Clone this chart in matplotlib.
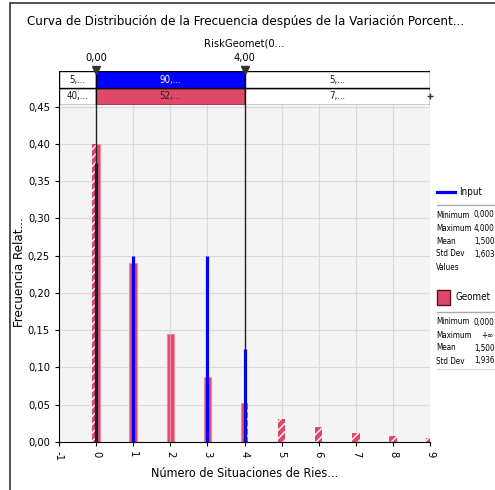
import matplotlib
matplotlib.use('Agg')
import matplotlib.pyplot as plt
from matplotlib.patches import Rectangle
from matplotlib.lines import Line2D

plt.rcParams['font.family'] = ['DejaVu Sans']
plt.rcParams['font.stretch'] = 'condensed'
plt.rcParams['hatch.linewidth'] = 1.0

title = 'Curva de Distribución de la Frecuencia despúes de la Variación Porcent...'
subtitle = 'RiskGeomet(0...'
xlabel = 'Número de Situaciones de Ries...'
ylabel = 'Frecuencia Relat...'

geomet_x = [0, 1, 2, 3, 4, 5, 6, 7, 8, 9]
geomet_p = [0.40, 0.24, 0.145, 0.087, 0.052, 0.031, 0.020, 0.012, 0.008, 0.005]
input_x = [0, 1, 3, 4]
input_p = [0.375, 0.25, 0.25, 0.125]

delims = [0.0, 4.0]
delim_labels = ['0,00', '4,00']
band_input = ['5,...', '90,...', '5,...']
band_geomet = ['40,...', '52,...', '7,...']

input_stats = [('Minimum', '0,000'), ('Maximum', '4,000'), ('Mean', '1,500'),
               ('Std Dev', '1,603'), ('Values', '')]
geomet_stats = [('Minimum', '0,000'), ('Maximum', '+∞'), ('Mean', '1,500'),
                ('Std Dev', '1,936')]

xticks = [-1, 0, 1, 2, 3, 4, 5, 6, 7, 8, 9]
yticks = [0.0, 0.05, 0.10, 0.15, 0.20, 0.25, 0.30, 0.35, 0.40, 0.45]

RED = '#E0486A'
BLUE = '#0000FF'
W, H = 495, 490


def fx(px):
    return px / W


def fy(py):
    return 1 - py / H


fig = plt.figure(figsize=(W / 100, H / 100), dpi=100)
fig.patch.set_facecolor('white')

# outer frame
fig.patches.append(Rectangle((fx(10), -0.1), 1.2, fy(3) + 0.1, fill=False,
                             edgecolor='#333333', lw=1.2, transform=fig.transFigure))

left, right, bottom, top = fx(59), fx(430), fy(442), fy(103)
ax = fig.add_axes([left, bottom, right - left, top - bottom])
ax.set_facecolor('#F4F4F4')
ax.set_xlim(-1, 9)
ax.set_ylim(0, 0.455)
ax.grid(True, color='#DADADA', lw=0.8)
ax.set_axisbelow(True)
for s in ['top', 'right']:
    ax.spines[s].set_visible(False)

# Geomet bars: hatched outside the delimiters
w = 0.1
for k, p in zip(geomet_x, geomet_p):
    for x0 in (k - w, k):
        outside = x0 < delims[0] or x0 >= delims[1]
        if outside:
            ax.bar(x0, p, width=w, align='edge', color=RED, edgecolor='white',
                   hatch='////', lw=0, zorder=2)
        else:
            ax.bar(x0, p, width=w, align='edge', color=RED, edgecolor='#F28CA2',
                   lw=0.8, zorder=2)

ax.vlines(input_x, 0, input_p, color=BLUE, lw=2.3, zorder=3)

for d in delims:
    ax.axvline(d, color='#222222', lw=1, zorder=4)

ax.set_xticks(xticks)
ax.set_xticklabels([str(t) for t in xticks], rotation=270, fontsize=8)
ax.set_yticks(yticks)
ax.set_yticklabels([f'{t:.2f}'.replace('.', ',') for t in yticks], fontsize=8)
ax.tick_params(length=3)
ax.set_xlabel(xlabel, fontsize=9)
ax.set_ylabel(ylabel, fontsize=9.5, labelpad=1)

# delimiter band
ax2 = fig.add_axes([left, fy(105), right - left, fy(71) - fy(105)])
ax2.set_xlim(-1, 9)
ax2.set_ylim(0, 2)
ax2.axis('off')
edges = [-1, delims[0], delims[1], 9]
for row, (labels, mid) in enumerate([(band_geomet, RED), (band_input, BLUE)]):
    for i in range(3):
        c = mid if i == 1 else 'white'
        ax2.add_patch(Rectangle((edges[i], row), edges[i + 1] - edges[i], 1,
                                facecolor=c, edgecolor='black', lw=1))
        tc = 'white' if c == BLUE else '#222222'
        ax2.text((edges[i] + edges[i + 1]) / 2, row + 0.5, labels[i],
                 ha='center', va='center', fontsize=7, color=tc)
ax2.plot(delims, [2.05, 2.05], 'v', color='#333333', ms=6, clip_on=False)
for d, lab in zip(delims, delim_labels):
    ax2.text(d, 2.5, lab, ha='center', va='bottom', fontsize=8)
ax2.plot([9], [0.5], '+', color='#333333', ms=5, clip_on=False)

fig.text(fx(27), fy(22), title, fontsize=9.5, ha='left', va='center')
fig.text((left + right) / 2, fy(43), subtitle, fontsize=8, ha='center', va='center')

# legend panel
fig.lines.append(Line2D([fx(437), fx(455)], [fy(192), fy(192)], color=BLUE, lw=2.3,
                        transform=fig.transFigure))
fig.text(fx(459), fy(192), 'Input', fontsize=7, va='center')
fig.lines.append(Line2D([fx(437), 1], [fy(205), fy(205)], color='#AAAAAA', lw=1,
                        transform=fig.transFigure))
for i, (a, b) in enumerate(input_stats):
    y = fy(215 + 13 * i)
    fig.text(fx(436), y, a, fontsize=5.8, va='center')
    fig.text(fx(474), y, b, fontsize=5.8, va='center', ha='left')

fig.patches.append(Rectangle((fx(437), fy(305)), fx(13), fy(290) - fy(305),
                             facecolor=RED, edgecolor='#5A1020', lw=1,
                             transform=fig.transFigure))
fig.text(fx(455), fy(297), 'Geomet', fontsize=7, va='center')
fig.lines.append(Line2D([fx(437), 1], [fy(312), fy(312)], color='#AAAAAA', lw=1,
                        transform=fig.transFigure))
for i, (a, b) in enumerate(geomet_stats):
    y = fy(322 + 13 * i)
    fig.text(fx(436), y, a, fontsize=5.8, va='center')
    fig.text(fx(493) if b == '+∞' else fx(474), y, b, fontsize=5.8, va='center',
             ha='right' if b == '+∞' else 'left')
fig.lines.append(Line2D([fx(437), 1], [fy(369), fy(369)], color='#DDDDDD', lw=1,
                        transform=fig.transFigure))

fig.savefig('out.png', dpi=100)
